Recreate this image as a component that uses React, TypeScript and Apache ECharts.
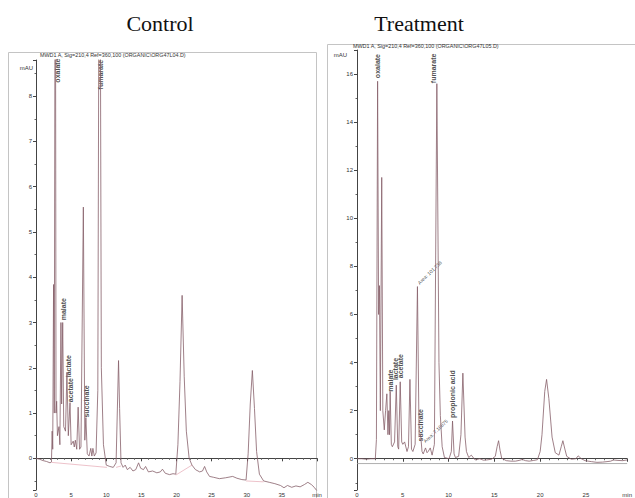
import React, { useEffect, useRef } from "react";
import * as echarts from "echarts";

// ---------- Data (time in min, signal in mAU) ----------
const controlTrace: [number, number][] = [
  [0, 0], [0.5, -0.02], [1, -0.05], [1.5, -0.07], [2, -0.1], [2.2, -0.08],
  [2.3, 0.6], [2.38, 0.2], [2.5, 3.84], [2.6, 1.0], [2.75, 14], [2.85, 1.0], [2.94, 1.26], [3.05, 0.5],
  [3.27, 0.7], [3.4, 0.3], [3.55, 3.0], [3.65, 1.2], [3.8, 3.0], [3.95, 0.7], [4.2, 0.6], [4.4, 1.9],
  [4.6, 0.5], [4.84, 1.23], [5.0, 0.3], [5.3, 0.38], [5.45, 0.25], [5.6, 0.4], [5.8, 0.2], [6.0, 1.13],
  [6.2, 0.2], [6.4, 0.25], [6.74, 5.55], [6.95, 0.4], [7.1, 0.9], [7.3, 0.1], [7.55, 0.05], [7.8, 0.22],
  [7.95, 0.05], [8.1, 0.22], [8.3, 0.05], [8.55, 0.12], [8.8, 1.5], [9.05, 16], [9.3, 2.0], [9.6, 0.3],
  [10.0, -0.15], [10.5, -0.18], [11.0, -0.2], [11.4, -0.1], [11.6, 1.2], [11.75, 2.16], [11.9, 1.1],
  [12.1, -0.1], [12.4, -0.2], [12.7, -0.15], [13.0, -0.25], [13.4, -0.2], [13.8, -0.28], [14.2, -0.25],
  [14.6, -0.1], [14.9, -0.22], [15.3, -0.25], [15.6, -0.18], [16.0, -0.3], [16.6, -0.28], [17.2, -0.32],
  [17.7, -0.3], [18.0, -0.24], [18.4, -0.33], [19.0, -0.36], [19.5, -0.34], [19.9, -0.35], [20.2, 0.3],
  [20.5, 1.7], [20.8, 3.6], [21.1, 1.8], [21.4, 0.6], [21.8, 0.0], [22.2, -0.15], [22.7, -0.25],
  [23.3, -0.3], [23.7, -0.28], [24.0, -0.18], [24.3, -0.3], [24.7, -0.4], [25.3, -0.42], [26.1, -0.45],
  [27.0, -0.43], [28.0, -0.4], [28.6, -0.44], [29.3, -0.47], [29.9, -0.48], [30.2, 0.1], [30.5, 1.2],
  [30.8, 1.94], [31.1, 1.1], [31.4, 0.15], [31.8, -0.35], [32.4, -0.5], [33.2, -0.53], [34.0, -0.56],
  [34.8, -0.6], [35.3, -0.65], [35.8, -0.6], [36.4, -0.64], [37.0, -0.61], [37.6, -0.63], [38.2, -0.58],
  [38.7, -0.53], [39.2, -0.58], [39.6, -0.64], [40, -0.72],
];

const controlBaseline: ([number, number] | null)[] = [
  [2.2, -0.09], [10.1, -0.2], null,
  [11.4, -0.2], [12.1, -0.17], null,
  [19.9, -0.37], [22.2, -0.15], null,
  [29.9, -0.5], [32.4, -0.52],
];

const treatmentTrace: [number, number][] = [
  [0, 0], [0.5, 0.0], [1, -0.02], [1.5, 0], [2.0, 0.0], [2.12, 0.8], [2.25, 15.7], [2.36, 6.0],
  [2.45, 7.2], [2.55, 2.0], [2.7, 11.7], [2.82, 2.0], [2.98, 1.2], [3.12, 2.0], [3.26, 2.7], [3.38, 1.0],
  [3.47, 2.0], [3.55, 1.0], [3.62, 2.8], [3.75, 0.6], [3.86, 0.5], [4.1, 0.7], [4.29, 3.06], [4.45, 0.5],
  [4.55, 0.4], [4.72, 3.2], [4.88, 0.7], [5.0, 0.6], [5.2, 0.7], [5.46, 0.3], [5.62, 0.5], [5.78, 3.3],
  [5.95, 0.4], [6.1, 0.3], [6.35, 0.6], [6.6, 7.16], [6.78, 0.9], [6.95, 1.0], [7.1, 0.3], [7.23, 0.2],
  [7.48, 0.45], [7.65, 0.25], [7.77, 0.3], [8.0, 0.45], [8.2, 0.15], [8.45, 0.6], [8.72, 15.6],
  [8.95, 4.0], [9.1, 1.8], [9.3, 0.5], [9.55, 0.05], [10.05, 0.0], [10.3, 0.3], [10.43, 1.57],
  [10.6, 0.2], [10.75, 0.05], [11.1, 0.1], [11.35, 1.0], [11.56, 3.56], [11.8, 0.9], [11.95, 0.3],
  [12.2, 0.05], [12.48, 0.15], [12.9, -0.05], [13.4, 0.0], [13.8, -0.06], [14.15, -0.05], [14.7, -0.02],
  [15.1, 0.1], [15.3, 0.5], [15.46, 0.75], [15.62, 0.35], [15.8, 0.02], [16.3, -0.08], [16.8, -0.1],
  [17.3, -0.1], [17.7, -0.07], [18.05, -0.03], [18.4, -0.08], [18.8, -0.1], [19.3, -0.07], [19.7, -0.04],
  [20.0, 0.3], [20.2, 1.0], [20.5, 2.8], [20.7, 3.3], [20.95, 2.5], [21.3, 0.9], [21.65, 0.25],
  [22.05, 0.15], [22.3, 0.5], [22.48, 0.75], [22.7, 0.4], [22.9, 0.1], [23.4, -0.02], [23.9, 0.0],
  [24.15, 0.12], [24.5, 0.0], [24.9, -0.08], [25.6, -0.12], [26.2, -0.15], [26.8, -0.14], [27.3, -0.12],
  [27.7, -0.1], [28.0, -0.05], [28.5, -0.07], [29.0, -0.08], [29.5, -0.05],
];

const treatmentBaseline: ([number, number] | null)[] = [
  [0, -0.2], [29.5, -0.2],
];

// Peak annotations
const controlLabelNames = ["oxalate", "fumarate", "malate", "lactate", "acetate", "succinate"];
const controlLabelTimes = [3.0, 9.15, 3.98, 4.6, 4.84, 7.16];
const controlLabelValues = [8.3, 8.15, 3.05, 1.79, 1.24, 0.9];

const treatmentLabelNames = ["oxalate", "fumarate", "malate", "lactate", "acetate", "succinate", "propionic acid"];
const treatmentLabelTimes = [2.23, 8.33, 3.67, 4.22, 4.72, 6.93, 10.46];
const treatmentLabelValues = [15.83, 15.62, 2.79, 3.27, 3.35, 0.72, 1.69];

const areaLabelNames = ["Area: 101.738", "Area: 7.18875"];
const areaLabelTimes = [6.7, 7.34];
const areaLabelValues = [7.29, 0.7];

const controlXTicks = [0, 5, 10, 15, 20, 25, 30, 35, 40];
const treatmentXTicks = [0, 5, 10, 15, 20, 25];

const headerLeft = "MWD1 A, Sig=210,4 Ref=360,100 (ORGANIC\\ORG47L04.D)";
const headerRight = "MWD1 A, Sig=210,4 Ref=360,100 (ORGANIC\\ORG47L05.D)";

const TRACE = "#86606a";
const PINK = "#e9b3bd";
const FONT = "Liberation Sans";

function labelSeries(names: string[], times: number[], values: number[], idx: number, rotate: number, size: number, bold: boolean) {
  return {
    type: "scatter",
    xAxisIndex: idx,
    yAxisIndex: idx,
    symbolSize: 1,
    itemStyle: { color: "rgba(0,0,0,0)" },
    silent: true,
    clip: false,
    data: names.map((n, i) => ({ value: [times[i], values[i]], name: n })),
    label: {
      show: true,
      position: "inside",
      formatter: (p: any) => p.name,
      rotate,
      align: "left",
      verticalAlign: "middle",
      color: "#222",
      fontSize: size,
      fontWeight: bold ? "bold" : "normal",
      fontFamily: FONT,
    },
  };
}

function xAxis(idx: number, max: number, ticks: number[], lastLabel: string) {
  return {
    type: "value",
    gridIndex: idx,
    min: 0,
    max,
    interval: 5,
    axisLine: { show: true, lineStyle: { color: "#444", width: 1 } },
    axisTick: { show: true, length: 3, lineStyle: { color: "#444" } },
    minorTick: { show: true, splitNumber: 5, length: 1.5, lineStyle: { color: "#666" } },
    splitLine: { show: false },
    axisLabel: {
      fontSize: 6,
      color: "#333",
      fontFamily: FONT,
      margin: 2,
      showMaxLabel: true,
      formatter: (v: number) => {
        if (v >= max - 0.01) return lastLabel;
        return ticks.includes(v) ? String(v) : "";
      },
    },
  };
}

function yAxis(idx: number, min: number, max: number, split: number) {
  return {
    type: "value",
    gridIndex: idx,
    min,
    max,
    splitNumber: split,
    axisLine: { show: true, lineStyle: { color: "#444", width: 1 } },
    axisTick: { show: true, length: 3, lineStyle: { color: "#444" } },
    minorTick: { show: true, splitNumber: 2, length: 1.5, lineStyle: { color: "#666" } },
    splitLine: { show: false },
    axisLabel: {
      fontSize: 6,
      color: "#333",
      fontFamily: FONT,
      margin: 4,
      showMinLabel: false,
      showMaxLabel: false,
      formatter: (v: number) => (Math.abs(v - Math.round(v)) < 1e-6 ? String(Math.round(v)) : ""),
    },
  };
}

export default function App() {
  const ref = useRef<HTMLDivElement>(null);
  useEffect(() => {
    if (!ref.current) return;
    const chart = echarts.init(ref.current, undefined, { renderer: "svg" });
    chart.setOption({
      animation: false,
      backgroundColor: "#fff",
      grid: [
        { left: 36, top: 60, width: 281, height: 431 },
        { left: 357, top: 50, width: 277.3, height: 441 },
      ],
      xAxis: [xAxis(0, 40, controlXTicks, "min"), xAxis(1, 29.5, treatmentXTicks, "min")],
      yAxis: [yAxis(0, -0.7, 8.8, 9), yAxis(1, -1.3, 17, 9)],
      graphic: [
        { type: "rect", shape: { x: 8.5, y: 52.5, width: 308, height: 460 }, style: { fill: "none", stroke: "#c4c4c4", lineWidth: 1 }, silent: true },
        { type: "rect", shape: { x: 327.5, y: 44.5, width: 320, height: 470 }, style: { fill: "none", stroke: "#c4c4c4", lineWidth: 1 }, silent: true },
        { type: "text", x: 160, y: 23, style: { text: "Control", font: "22px 'Liberation Serif'", fill: "#111", align: "center", verticalAlign: "middle" } },
        { type: "text", x: 419, y: 23, style: { text: "Treatment", font: "22px 'Liberation Serif'", fill: "#111", align: "center", verticalAlign: "middle" } },
        { type: "text", x: 40, y: 55, style: { text: headerLeft, font: `5.4px '${FONT}'`, fill: "#333", align: "left", verticalAlign: "middle" } },
        { type: "text", x: 353, y: 46, style: { text: headerRight, font: `5.4px '${FONT}'`, fill: "#333", align: "left", verticalAlign: "middle" } },
        { type: "text", x: 33, y: 68, style: { text: "mAU", font: `6px '${FONT}'`, fill: "#333", align: "right", verticalAlign: "middle" } },
        { type: "text", x: 347, y: 55, style: { text: "mAU", font: `6px '${FONT}'`, fill: "#333", align: "right", verticalAlign: "middle" } },
      ],
      series: [
        {
          type: "line", xAxisIndex: 0, yAxisIndex: 0, data: controlBaseline, symbol: "none",
          connectNulls: false, lineStyle: { color: PINK, width: 0.8 }, silent: true, clip: true,
        },
        {
          type: "line", xAxisIndex: 0, yAxisIndex: 0, data: controlTrace, symbol: "none",
          lineStyle: { color: TRACE, width: 0.8 }, silent: true, clip: true,
        },
        {
          type: "line", xAxisIndex: 1, yAxisIndex: 1, data: treatmentBaseline, symbol: "none",
          connectNulls: false, lineStyle: { color: "#9a9a9a", width: 0.8 }, silent: true, clip: true,
        },
        {
          type: "line", xAxisIndex: 1, yAxisIndex: 1, data: treatmentTrace, symbol: "none",
          lineStyle: { color: TRACE, width: 0.8 }, silent: true, clip: true,
        },
        labelSeries(controlLabelNames, controlLabelTimes, controlLabelValues, 0, 90, 7, true),
        labelSeries(treatmentLabelNames, treatmentLabelTimes, treatmentLabelValues, 1, 90, 7, true),
        labelSeries(areaLabelNames, areaLabelTimes, areaLabelValues, 1, 44, 5, false),
      ],
    });
    return () => chart.dispose();
  }, []);
  return (
    <div
      ref={ref}
      style={{ position: "fixed", left: 0, top: 0, width: 635, height: 498, background: "#fff" }}
    />
  );
}
